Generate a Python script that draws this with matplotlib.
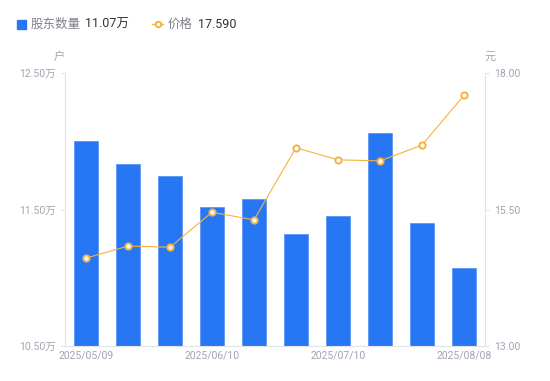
import matplotlib
matplotlib.use("Agg")
import matplotlib.pyplot as plt
from matplotlib.lines import Line2D
from matplotlib.patches import Rectangle

plt.rcParams["font.family"] = ["Roboto", "Noto Sans CJK SC", "DejaVu Sans"]

# data
holders = [12.00, 11.83, 11.745, 11.52, 11.58, 11.32, 11.45, 12.06, 11.40, 11.07]  # 万户
prices = [14.61, 14.83, 14.81, 15.45, 15.31, 16.63, 16.41, 16.39, 16.68, 17.59]
tick_idx = [0, 3, 6, 9]
tick_labels = ["2025/05/09", "2025/06/10", "2025/07/10", "2025/08/08"]
left_ticks = [10.5, 11.5, 12.5]
right_ticks = [13.0, 15.5, 18.0]

BLUE = "#2777f5"
ORANGE = "#f7b13f"
GRID = "#e3e3e6"
TXT = "#a3a3b3"

fig = plt.figure(figsize=(5.5, 3.81), dpi=100)
ax = fig.add_axes([65 / 550, 1 - 346 / 381, 420 / 550, 273 / 381])
ax2 = ax.twinx()

x = list(range(len(holders)))
ax.bar(x, [h - 10.5 for h in holders], bottom=10.5, width=0.58, color=BLUE,
       edgecolor="#5a97f7", linewidth=0.6, zorder=2)
ax.set_xlim(-0.5, len(holders) - 0.5)
ax.set_ylim(10.5, 12.5)
ax.set_yticks(left_ticks)
ax.set_yticklabels([f"{v:.2f}万" for v in left_ticks])
ax.set_xticks(tick_idx)
ax.set_xticklabels(tick_labels)

ax2.plot(x, prices, color=ORANGE, linewidth=0.8, marker="o", markersize=4.5,
         markerfacecolor="white", markeredgecolor=ORANGE, markeredgewidth=1.4, zorder=3)
ax2.set_ylim(13, 18)
ax2.set_yticks(right_ticks)
ax2.set_yticklabels([f"{v:.2f}" for v in right_ticks])

for a in (ax, ax2):
    for s in a.spines.values():
        s.set_visible(False)
    a.tick_params(colors=GRID, labelcolor=TXT, labelsize=7.5, length=3, width=0.8)
ax.spines["left"].set_visible(True)
ax.spines["left"].set_color(GRID)
ax.spines["bottom"].set_visible(True)
ax.spines["bottom"].set_color(GRID)
ax2.spines["right"].set_visible(True)
ax2.spines["right"].set_color(GRID)
ax.tick_params(axis="x", length=0, pad=3)
ax.set_zorder(ax2.get_zorder() - 1)
ax2.patch.set_visible(False)

# unit labels
fig.text(59 / 550, 1 - 57 / 381, "户", color=TXT, fontsize=8, ha="center", va="center")
fig.text(490 / 550, 1 - 57 / 381, "元", color=TXT, fontsize=8, ha="center", va="center")

# custom legend
ly = 1 - 24 / 381
fig.patches.append(Rectangle((17 / 550, ly - 4.5 / 381), 9 / 550, 9 / 381,
                             transform=fig.transFigure, color=BLUE, figure=fig))
fig.text(31 / 550, ly, "股东数量", color="#80808f", fontsize=9, va="center")
fig.text(85 / 550, ly, f"{holders[-1]:.2f}万", color="#333333", fontsize=9, va="center")
fig.lines.append(Line2D([152 / 550, 163 / 550], [ly, ly], transform=fig.transFigure,
                        color=ORANGE, linewidth=1, figure=fig))
fig.lines.append(Line2D([157.5 / 550], [ly], transform=fig.transFigure, color=ORANGE,
                        marker="o", markersize=4, markerfacecolor="white",
                        markeredgewidth=1.4, figure=fig))
fig.text(168 / 550, ly, "价格", color="#80808f", fontsize=9, va="center")
fig.text(198 / 550, ly, f"{prices[-1]:.3f}", color="#333333", fontsize=9, va="center")

fig.savefig("out.png", dpi=100)
